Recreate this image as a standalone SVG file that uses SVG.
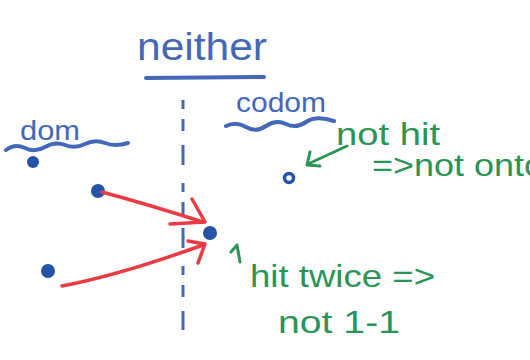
<svg xmlns="http://www.w3.org/2000/svg" width="530" height="360" viewBox="0 0 530 360">
<defs>
<style>
.b{fill:#4468b8;font-family:"Liberation Sans",sans-serif}
.g{fill:#2a9556;font-family:"Liberation Sans",sans-serif;font-size:32px}
.bl{stroke:#4468b8;stroke-width:4;fill:none;stroke-linecap:round}
.gl{stroke:#2a9556;stroke-width:3;fill:none;stroke-linecap:round;stroke-linejoin:round}
.rl{stroke:#ea3a44;stroke-width:3.5;fill:none;stroke-linecap:round;stroke-linejoin:round}
.dot{fill:#2553a6}
</style>
</defs>
<rect width="530" height="360" fill="#fff"/>
<g id="title">
<text class="b" x="137" y="60" font-size="38" textLength="130" lengthAdjust="spacingAndGlyphs">neither</text>
<path class="bl" d="M146 78 L264 77" stroke-width="5"/>
</g>
<g id="divider">
<path d="M183 100 L183 330" stroke="#4468b8" stroke-width="3" stroke-dasharray="9 10 12 14 20 18"/>
</g>
<g id="dom">
<text class="b" x="20" y="140" font-size="28" textLength="60" lengthAdjust="spacingAndGlyphs">dom</text>
<path class="bl" d="M6 150 Q15 143 25 148 T45 147 T65 145 T85 144 T105 143 T128 143" stroke-width="3.5"/>
</g>
<g id="codom">
<text class="b" x="236" y="112" font-size="27" textLength="90" lengthAdjust="spacingAndGlyphs">codom</text>
<path class="bl" d="M226 126 Q236 121 246 127 T266 126 T286 124 T306 122 T334 121" stroke-width="3.5"/>
</g>
<g id="d1"><circle class="dot" cx="33" cy="162" r="6"/></g>
<g id="d2"><circle class="dot" cx="98" cy="191" r="7"/></g>
<g id="d3"><circle class="dot" cx="48" cy="271" r="7"/></g>
<g id="c1"><circle class="dot" cx="210" cy="233" r="7"/></g>
<g id="c2"><circle cx="289" cy="178" r="4.5" fill="none" stroke="#2553a6" stroke-width="3.5"/></g>
<g id="connectors">
<path class="rl" d="M102 192 Q150 205 203 222"/>
<path class="rl" d="M192 199 L205 222 L170 224"/>
<path class="rl" d="M62 286 Q120 275 203 245"/>
<path class="rl" d="M188 241 L205 244 L198 263"/>
<path class="gl" d="M347 146 L308 164"/>
<path class="gl" d="M310 152 L307 165 L320 166"/>
<path class="gl" d="M240 262 L237 245 L231 252"/>
</g>
<g id="notes">
<text class="g" x="336" y="145" textLength="104" lengthAdjust="spacingAndGlyphs">not hit</text>
<text class="g" x="372" y="176" textLength="172" lengthAdjust="spacingAndGlyphs">=&gt;not onto</text>
<text class="g" x="250" y="287" font-size="34" textLength="185" lengthAdjust="spacingAndGlyphs">hit twice =&gt;</text>
<text class="g" x="278" y="333" textLength="122" lengthAdjust="spacingAndGlyphs">not 1-1</text>
</g>
</svg>
